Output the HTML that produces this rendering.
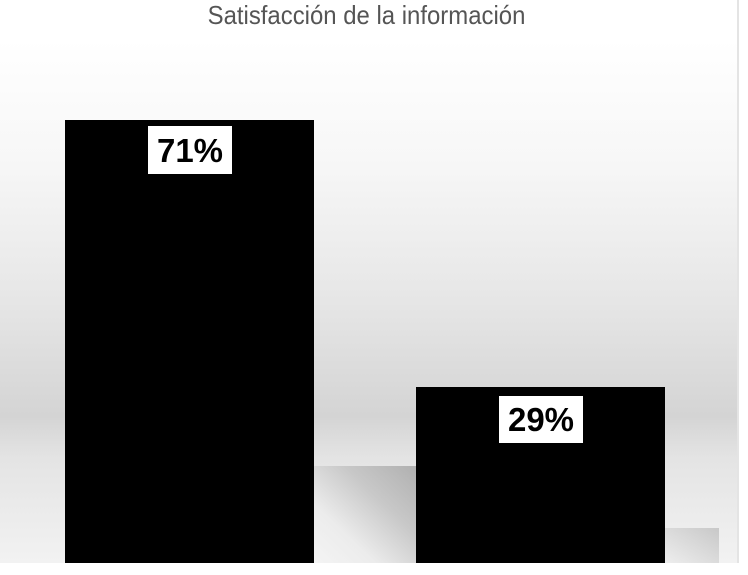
<!DOCTYPE html>
<html><head><meta charset="utf-8"><style>
body{margin:0;width:748px;height:575px;overflow:hidden;background:#fff;position:relative;font-family:"Liberation Sans",sans-serif}
.bg{position:absolute;left:0;top:40px;width:737px;height:523px;background:linear-gradient(to bottom,#fff 0%,#f6f6f6 25%,#e6e6e6 50%,#d4d4d4 72%,#e4e4e4 80%,#f2f2f2 100%)}
.edge{position:absolute;left:737px;top:0;width:2px;height:563px;background:#e4e4e4}
.title{position:absolute;left:148px;top:0px;width:437px;text-align:center;font-size:26px;color:#555;white-space:nowrap;transform:scaleX(0.92);transform-origin:center}
.bar{position:absolute;background:#000}
.sh{position:absolute}
.lab{position:absolute;background:#fff;font-weight:bold;font-size:33px;text-align:center;color:#000}
</style></head><body>
<div class="bg"></div>
<div class="edge"></div>
<div class="sh" style="left:314px;top:466px;width:102px;height:97px;background:linear-gradient(to bottom left,#b0b0b0 0%,#c8c8c8 35%,#ececec 70%,#f4f4f4 100%)"></div>
<div class="sh" style="left:664px;top:528px;width:55px;height:35px;background:linear-gradient(to bottom left,#c8c8c8,#eeeeee)"></div>
<div class="title">Satisfacción de la información</div>
<div class="bar" style="left:65px;top:120px;width:249px;height:443px"></div>
<div class="bar" style="left:416px;top:387px;width:249px;height:176px"></div>
<div class="lab" style="left:148px;top:126px;width:84px;height:48px;line-height:50px">71%</div>
<div class="lab" style="left:499px;top:396px;width:84px;height:47px;line-height:48px">29%</div>
</body></html>
